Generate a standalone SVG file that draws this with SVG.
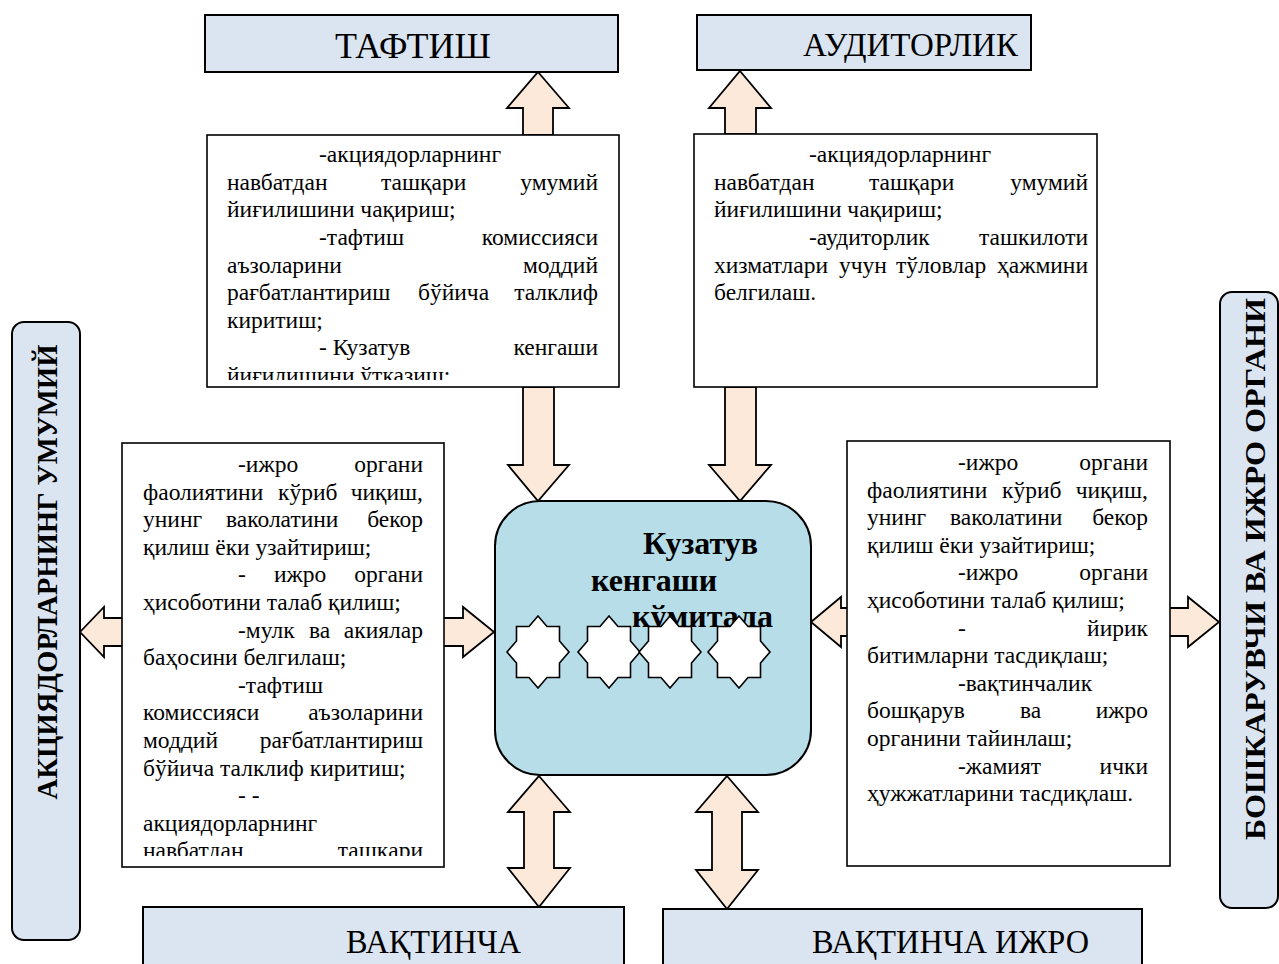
<svg xmlns="http://www.w3.org/2000/svg" width="1279" height="964" viewBox="0 0 1279 964">
  <style>
    .hdr { fill: #dbe5f1; stroke: #000; stroke-width: 2; }
    .side { fill: #dbe5f1; stroke: #000; stroke-width: 2; }
    .note { fill: #fff; stroke: #000; stroke-width: 1.6; }
    .core { fill: #b7dde8; stroke: #000; stroke-width: 2; }
    .arrow { fill: #fde9d9; stroke: #000; stroke-width: 1.8; stroke-linejoin: miter; }
    .star { fill: #fff; stroke: #000; stroke-width: 1.6; }
    text { font-family: "Liberation Serif", "Times New Roman", serif; fill: #000; }
    .body { font-size: 23.5px; }
    .end { text-anchor: end; }
    .title { font-size: 36px; }
    .vlabel { font-size: 29px; font-weight: bold; text-anchor: middle; }
    .core-t { font-size: 32px; font-weight: bold; }
    .low { font-size: 33px; }
  </style>
  <defs>
    <clipPath id="clip-tl"><rect x="207" y="135" width="412" height="245"/></clipPath>
    <clipPath id="clip-ml"><rect x="122" y="443" width="322" height="413"/></clipPath>
    <!-- eight-point star: square + diamond union, centred on 0,0 -->
    <polygon id="star8" points="0,-36 9,-25.5 21.5,-25.5 21.5,-11 31,0 21.5,11 21.5,25.5 9,25.5 0,36 -9,25.5 -21.5,25.5 -21.5,11 -31,0 -21.5,-11 -21.5,-25.5 -9,-25.5"/>
  </defs>

  <!-- connectors: block arrows -->
  <g id="connectors">
    <!-- up to ТАФТИШ -->
    <polygon class="arrow" points="538,72 569,108 553,108 553,135 523,135 523,108 507,108"/>
    <!-- up to АУДИТОРЛИК -->
    <polygon class="arrow" points="740,71 771,108 756,108 756,134 725,134 725,108 709,108"/>
    <!-- down into council from upper notes -->
    <polygon class="arrow" points="523,387 554,387 554,465 569,465 538,501 508,465 523,465"/>
    <polygon class="arrow" points="725,387 756,387 756,465 771,465 740,501 709,465 725,465"/>
    <!-- left side -->
    <polygon class="arrow" points="80,632 104,607 104,618 123,618 123,646 104,646 104,657"/>
    <polygon class="arrow" points="443,618 463,618 463,607 494,632 463,657 463,646 443,646"/>
    <!-- right side -->
    <polygon class="arrow" points="811,622 841,597 841,608 848,608 848,636 841,636 841,647"/>
    <polygon class="arrow" points="1169,608 1188,608 1188,597 1219,622 1188,647 1188,636 1169,636"/>
    <!-- double arrows to lower boxes -->
    <polygon class="arrow" points="539,776 570,812 554,812 554,868 570,868 539,907 508,868 524,868 524,812 508,812"/>
    <polygon class="arrow" points="727,776 758,812 742,812 742,870 758,870 727,909 696,870 712,870 712,812 696,812"/>
  </g>

  <g id="node-taftish">
    <rect class="hdr" x="205" y="15" width="413" height="57"/>
    <text class="title" x="413" y="58" text-anchor="middle">ТАФТИШ</text>
  </g>

  <g id="node-auditorlik">
    <rect class="hdr" x="697" y="15" width="334" height="55"/>
    <text x="803" y="56" font-size="33">АУДИТОРЛИК</text>
  </g>

  <g id="node-note-top-left">
    <rect class="note" x="207" y="135" width="412" height="252"/>
    <g class="body" clip-path="url(#clip-tl)">
      <text x="319" y="162">-акциядорларнинг</text>
      <text x="227" y="190">навбатдан</text><text x="381" y="190">ташқари</text><text class="end" x="598" y="190">умумий</text>
      <text x="227" y="217">йиғилишини чақириш;</text>
      <text x="319" y="245">-тафтиш</text><text class="end" x="598" y="245">комиссияси</text>
      <text x="227" y="273">аъзоларини</text><text class="end" x="598" y="273">моддий</text>
      <text x="227" y="300">рағбатлантириш</text><text x="418" y="300">бўйича</text><text class="end" x="598" y="300">талклиф</text>
      <text x="227" y="328">киритиш;</text>
      <text x="319" y="355">- Кузатув</text><text class="end" x="598" y="355">кенгаши</text>
      <text x="227" y="383">йиғилишини ўтказиш;</text>
    </g>
  </g>

  <g id="node-note-top-right">
    <rect class="note" x="694" y="134" width="403" height="253"/>
    <g class="body">
      <text x="809" y="162">-акциядорларнинг</text>
      <text x="714" y="190">навбатдан</text><text x="869" y="190">ташқари</text><text class="end" x="1088" y="190">умумий</text>
      <text x="714" y="217">йиғилишини чақириш;</text>
      <text x="809" y="245">-аудиторлик</text><text class="end" x="1088" y="245">ташкилоти</text>
      <text x="714" y="273">хизматлари</text><text x="839" y="273">учун</text><text x="896" y="273">тўловлар</text><text class="end" x="1088" y="273">ҳажмини</text>
      <text x="714" y="300">белгилаш.</text>
    </g>
  </g>

  <g id="node-note-mid-left">
    <rect class="note" x="122" y="443" width="322" height="424"/>
    <g class="body" clip-path="url(#clip-ml)">
      <text x="238" y="472">-ижро</text><text class="end" x="423" y="472">органи</text>
      <text x="143" y="500">фаолиятини</text><text x="278" y="500">кўриб</text><text class="end" x="423" y="500">чиқиш,</text>
      <text x="143" y="527">унинг</text><text x="226" y="527">ваколатини</text><text class="end" x="423" y="527">бекор</text>
      <text x="143" y="555">қилиш ёки узайтириш;</text>
      <text x="238" y="582">-</text><text x="274" y="582">ижро</text><text class="end" x="423" y="582">органи</text>
      <text x="143" y="610">ҳисоботини талаб қилиш;</text>
      <text x="238" y="638">-мулк</text><text x="309" y="638">ва</text><text class="end" x="423" y="638">акиялар</text>
      <text x="143" y="665">баҳосини белгилаш;</text>
      <text x="238" y="693">-тафтиш</text>
      <text x="143" y="720">комиссияси</text><text class="end" x="423" y="720">аъзоларини</text>
      <text x="143" y="748">моддий</text><text class="end" x="423" y="748">рағбатлантириш</text>
      <text x="143" y="776">бўйича талклиф киритиш;</text>
      <text x="238" y="803">- -</text>
      <text x="143" y="831">акциядорларнинг</text>
      <text x="143" y="858">навбатдан</text><text class="end" x="423" y="858">ташқари</text>
    </g>
  </g>

  <g id="node-note-mid-right">
    <rect class="note" x="847" y="441" width="323" height="425"/>
    <g class="body">
      <text x="958" y="470">-ижро</text><text class="end" x="1148" y="470">органи</text>
      <text x="867" y="498">фаолиятини</text><text x="1002" y="498">кўриб</text><text class="end" x="1148" y="498">чиқиш,</text>
      <text x="867" y="525">унинг</text><text x="950" y="525">ваколатини</text><text class="end" x="1148" y="525">бекор</text>
      <text x="867" y="553">қилиш ёки узайтириш;</text>
      <text x="958" y="580">-ижро</text><text class="end" x="1148" y="580">органи</text>
      <text x="867" y="608">ҳисоботини талаб қилиш;</text>
      <text x="958" y="636">-</text><text class="end" x="1148" y="636">йирик</text>
      <text x="867" y="663">битимларни тасдиқлаш;</text>
      <text x="958" y="691">-вақтинчалик</text>
      <text x="867" y="718">бошқарув</text><text x="1020" y="718">ва</text><text class="end" x="1148" y="718">ижро</text>
      <text x="867" y="746">органини тайинлаш;</text>
      <text x="958" y="774">-жамият</text><text class="end" x="1148" y="774">ички</text>
      <text x="867" y="801">ҳужжатларини тасдиқлаш.</text>
    </g>
  </g>

  <g id="node-council">
    <rect class="core" x="495" y="501" width="316" height="274" rx="45" ry="45"/>
    <text class="core-t" x="643" y="554">Кузатув</text>
    <text class="core-t" x="591" y="591">кенгаши</text>
    <text class="core-t" x="632" y="627">кўмитала</text>
    <use href="#star8" class="star" x="538" y="652"/>
    <use href="#star8" class="star" x="609" y="652"/>
    <use href="#star8" class="star" x="670" y="652"/>
    <use href="#star8" class="star" x="739" y="652"/>
  </g>

  <g id="node-shareholders">
    <rect class="side" x="12" y="322" width="68" height="618" rx="12" ry="12"/>
    <text class="vlabel" transform="translate(57,572) rotate(-90)" textLength="455" lengthAdjust="spacingAndGlyphs">АКЦИЯДОРЛАРНИНГ УМУМИЙ</text>
  </g>

  <g id="node-executive">
    <rect class="side" x="1220" y="292" width="58" height="616" rx="12" ry="12"/>
    <text class="vlabel" transform="translate(1265,569) rotate(-90)" textLength="542" lengthAdjust="spacingAndGlyphs">БОШКАРУВЧИ ВА ИЖРО ОРГАНИ</text>
  </g>

  <g id="node-temp-left">
    <rect class="hdr" x="143" y="907" width="481" height="80"/>
    <text class="low" x="346" y="953" textLength="175" lengthAdjust="spacingAndGlyphs">ВАҚТИНЧА</text>
  </g>

  <g id="node-temp-right">
    <rect class="hdr" x="663" y="909" width="479" height="80"/>
    <text class="low" x="812" y="953" textLength="277" lengthAdjust="spacingAndGlyphs">ВАҚТИНЧА ИЖРО</text>
  </g>
</svg>
